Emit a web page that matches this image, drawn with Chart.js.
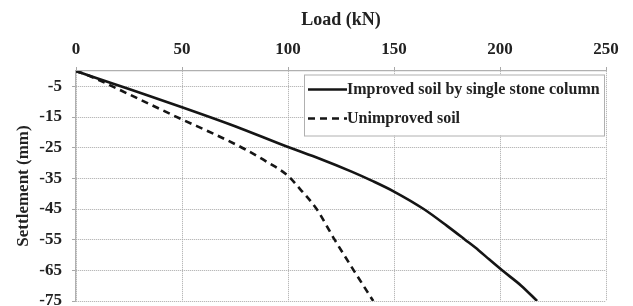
<!DOCTYPE html>
<html>
<head>
<meta charset="utf-8">
<script src="https://cdn.jsdelivr.net/npm/chart.js@4/dist/chart.umd.min.js"></script>
<style>
html,body{margin:0;padding:0;background:#fff;overflow:hidden;}
#wrap{position:relative;width:633px;height:306px;}
</style>
</head>
<body>
<div id="wrap"><canvas id="c" width="633" height="306"></canvas></div>
<script>
// ---- data ----
const improvedLoad = [0, 5, 25, 50, 75, 100, 115, 130, 140, 150, 164, 175, 183.5, 190, 195, 201, 210, 217.5];
const improvedSettlement = [0, -1.2, -5.9, -11.8, -18, -24.8, -28.6, -32.8, -35.9, -39.3, -45, -50.5, -55, -58.5, -61.5, -65, -70, -75];
const unimprovedLoad = [0, 7, 25, 50, 65, 80, 90, 100, 105.7, 113.5, 122, 131, 140.2];
const unimprovedSettlement = [0, -1.8, -7.6, -15.8, -20.5, -25.6, -29.6, -34.2, -38.5, -45, -55, -65, -75];
const xTicks = [0, 50, 100, 150, 200, 250];
const yTicks = [-5, -15, -25, -35, -45, -55, -65, -75];
const seriesNames = ['Improved soil by single stone column', 'Unimproved soil'];
const xTitle = 'Load (kN)';
const yTitle = 'Settlement (mm)';

const FONT = "'Liberation Serif', 'Times New Roman', serif";
const TXT = '#222';
const GRID = '#a8a8a8';

const toPts = (xs, ys) => xs.map((x, i) => ({x: x, y: ys[i]}));

const legendBox = {
  id: 'legendBox',
  afterDatasetsDraw(chart) {
    const ctx = chart.ctx, a = chart.chartArea;
    const w = 300, h = 61;
    const left = a.right - w - 2, top = a.top + 3.5;
    ctx.save();
    ctx.fillStyle = '#fff';
    ctx.fillRect(left, top, w, h);
    ctx.strokeStyle = '#b0b0b0';
    ctx.lineWidth = 1;
    ctx.strokeRect(left + 0.5, top + 0.5, w, h);
    const rows = [top + 15, top + 44];
    chart.data.datasets.forEach((ds, i) => {
      const y = rows[i];
      ctx.strokeStyle = ds.borderColor;
      ctx.lineWidth = ds.borderWidth;
      ctx.setLineDash(ds.borderDash || []);
      ctx.beginPath();
      ctx.moveTo(left + 4, y);
      ctx.lineTo(left + 43, y);
      ctx.stroke();
      ctx.setLineDash([]);
      ctx.fillStyle = TXT;
      ctx.font = "bold 16px " + FONT;
      ctx.textBaseline = 'middle';
      ctx.textAlign = 'left';
      ctx.fillText(ds.label, left + 43, y);
    });
    ctx.restore();
  }
};

new Chart(document.getElementById('c'), {
  type: 'line',
  data: {
    datasets: [
      {
        label: seriesNames[0],
        data: toPts(improvedLoad, improvedSettlement),
        borderColor: '#151515',
        borderWidth: 2.6,
        pointRadius: 0,
        cubicInterpolationMode: 'monotone',
        fill: false
      },
      {
        label: seriesNames[1],
        data: toPts(unimprovedLoad, unimprovedSettlement),
        borderColor: '#151515',
        borderWidth: 2.6,
        borderDash: [7, 5],
        pointRadius: 0,
        cubicInterpolationMode: 'monotone',
        fill: false
      }
    ]
  },
  plugins: [legendBox],
  options: {
    responsive: false,
    animation: false,
    layout: {padding: {left: 0, right: 27, top: 0, bottom: 5}},
    plugins: {legend: {display: false}, tooltip: {enabled: false}},
    scales: {
      x: {
        type: 'linear',
        position: 'top',
        min: 0,
        max: 250,
        afterBuildTicks: s => { s.ticks = xTicks.map(v => ({value: v})); },
        afterFit: s => { s.height = 71; s.paddingLeft = 0; s.paddingRight = 0; },
        title: {display: true, text: xTitle, color: TXT, font: {family: FONT, size: 18, weight: 'bold'}, padding: {top: 10, bottom: 0}},
        ticks: {color: TXT, font: {family: FONT, size: 17, weight: 'bold'}, padding: 7, maxRotation: 0},
        grid: {color: GRID, lineWidth: 1, tickLength: 4, tickColor: GRID},
        border: {display: true, color: '#b0b0b0', width: 1.2, dash: [1, 1]}
      },
      y: {
        type: 'linear',
        min: -75,
        max: 0,
        afterBuildTicks: s => { s.ticks = yTicks.map(v => ({value: v})); },
        afterFit: s => { s.width = 76; s.paddingTop = 0; s.paddingBottom = 0; },
        title: {display: true, text: yTitle, color: TXT, font: {family: FONT, size: 17, weight: 'bold'}, padding: {top: 13, bottom: 0}},
        ticks: {color: TXT, font: {family: FONT, size: 17, weight: 'bold'}, padding: 10},
        grid: {color: GRID, lineWidth: 1, tickLength: 4, tickColor: GRID},
        border: {display: true, color: '#b0b0b0', width: 1.2, dash: [1, 1]}
      }
    }
  }
});
</script>
</body>
</html>
